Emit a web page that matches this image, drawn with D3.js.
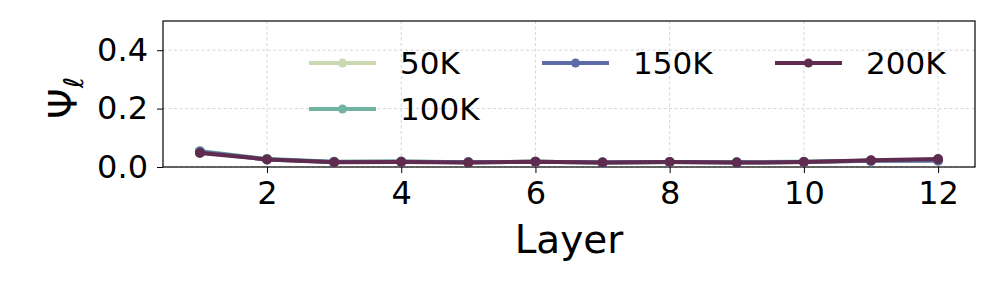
<!DOCTYPE html>
<html>
<head>
<meta charset="utf-8">
<script src="https://cdn.jsdelivr.net/npm/d3@7"></script>
<style>
  body { margin: 0; background: #fff; }
  svg { font-family: "DejaVu Sans", sans-serif; }
</style>
</head>
<body>
<div id="chart"></div>
<script>
// data
var layers = [1, 2, 3, 4, 5, 6, 7, 8, 9, 10, 11, 12];
var seriesNames = ["50K", "100K", "150K", "200K"];
var seriesColors = ["#cad9b2", "#6fb3a0", "#5d6ba9", "#5f2b4f"];
var psi50k  = [0.055, 0.027, 0.018, 0.019, 0.016, 0.018, 0.015, 0.017, 0.016, 0.018, 0.021, 0.021];
var psi100k = [0.054, 0.027, 0.018, 0.019, 0.016, 0.018, 0.015, 0.017, 0.016, 0.018, 0.021, 0.022];
var psi150k = [0.052, 0.026, 0.017, 0.018, 0.016, 0.018, 0.015, 0.017, 0.015, 0.017, 0.021, 0.022];
var psi200k = [0.048, 0.026, 0.016, 0.017, 0.015, 0.018, 0.015, 0.017, 0.015, 0.017, 0.023, 0.027];
var xTicks = [2, 4, 6, 8, 10, 12];
var yTicks = [0.0, 0.2, 0.4];

var allSeries = [psi50k, psi100k, psi150k, psi200k];

var W = 996, H = 285;
var margin = {left: 163, right: 21, top: 21, bottom: 118};

var svg = d3.select("#chart").append("svg")
    .attr("width", W)
    .attr("height", H);

var x = d3.scaleLinear().domain([0.45, 12.55]).range([margin.left, W - margin.right]);
var y = d3.scaleLinear().domain([0, 0.5]).range([H - margin.bottom, margin.top]);

// grid
var grid = svg.append("g");
grid.selectAll("line.gx").data(xTicks).enter().append("line")
    .attr("x1", function(d) { return x(d); }).attr("x2", function(d) { return x(d); })
    .attr("y1", y(0)).attr("y2", y(0.5))
    .attr("stroke", "#cccccc").attr("stroke-width", 0.8).attr("stroke-dasharray", "3,2.5");
grid.selectAll("line.gy").data(yTicks).enter().append("line")
    .attr("x1", x(0.45)).attr("x2", x(12.55))
    .attr("y1", function(d) { return y(d); }).attr("y2", function(d) { return y(d); })
    .attr("stroke", "#cccccc").attr("stroke-width", 0.8).attr("stroke-dasharray", "3,2.5");

// axes
var xAxis = svg.append("g")
    .attr("transform", "translate(0," + y(0) + ")")
    .call(d3.axisBottom(x).tickValues(xTicks).tickFormat(d3.format("d")).tickSize(6).tickPadding(8));
var yAxis = svg.append("g")
    .attr("transform", "translate(" + x(0.45) + ",0)")
    .call(d3.axisLeft(y).tickValues(yTicks).tickFormat(d3.format(".1f")).tickSize(6).tickPadding(9));

[xAxis, yAxis].forEach(function(a) {
    a.select(".domain").remove();
    a.selectAll(".tick line").attr("stroke", "#000").attr("stroke-width", 1);
    a.selectAll(".tick text").attr("font-size", 32).attr("fill", "#000")
        .attr("font-family", "DejaVu Sans");
});

// frame
svg.append("rect")
    .attr("x", x(0.45)).attr("y", y(0.5))
    .attr("width", x(12.55) - x(0.45)).attr("height", y(0) - y(0.5))
    .attr("fill", "none").attr("stroke", "#000").attr("stroke-width", 1.2);

// lines
var line = d3.line()
    .x(function(d, i) { return x(layers[i]); })
    .y(function(d) { return y(d); });

allSeries.forEach(function(s, k) {
    var g = svg.append("g");
    g.append("path")
        .datum(s)
        .attr("d", line)
        .attr("fill", "none")
        .attr("stroke", seriesColors[k])
        .attr("stroke-width", 4)
        .attr("stroke-linejoin", "round");
    g.selectAll("circle").data(s).enter().append("circle")
        .attr("cx", function(d, i) { return x(layers[i]); })
        .attr("cy", function(d) { return y(d); })
        .attr("r", 5)
        .attr("fill", seriesColors[k]);
});

// legend (3 columns)
var legCols = [309, 542, 775];
var legRows = [63, 109];
seriesNames.forEach(function(name, k) {
    var col = k === 0 || k === 1 ? 0 : k - 1;
    var row = k === 1 ? 1 : 0;
    var lx = legCols[col], ly = legRows[row];
    var g = svg.append("g");
    g.append("line")
        .attr("x1", lx).attr("x2", lx + 67)
        .attr("y1", ly).attr("y2", ly)
        .attr("stroke", seriesColors[k]).attr("stroke-width", 4);
    g.append("circle")
        .attr("cx", lx + 33.5).attr("cy", ly).attr("r", 4.5)
        .attr("fill", seriesColors[k]);
    g.append("text")
        .attr("x", lx + 91).attr("y", ly)
        .attr("dy", "0.36em")
        .attr("font-size", 31)
        .text(name);
});

// axis labels
svg.append("text")
    .attr("x", (x(0.45) + x(12.55)) / 2)
    .attr("y", 253)
    .attr("text-anchor", "middle")
    .attr("font-size", 39)
    .text("Layer");

var yl = svg.append("text")
    .attr("transform", "translate(77," + ((y(0) + y(0.5)) / 2 + 4) + ") rotate(-90)")
    .attr("text-anchor", "middle")
    .attr("font-size", 39);
yl.append("tspan").text("Ψ");
yl.append("tspan")
    .attr("font-size", 27)
    .attr("font-style", "italic")
    .attr("dy", 6)
    .text("ℓ");
</script>
</body>
</html>
